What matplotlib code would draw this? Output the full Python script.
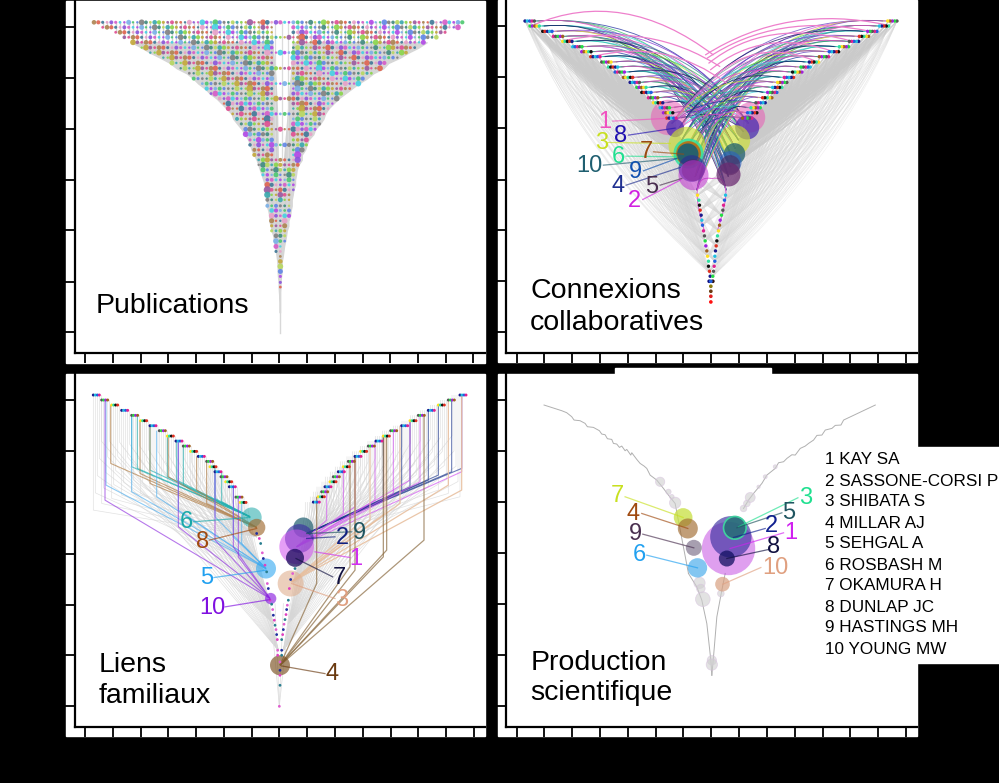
import matplotlib
matplotlib.use('Agg')
import matplotlib.pyplot as plt
from matplotlib.collections import LineCollection, PathCollection
from matplotlib.patches import Circle, PathPatch, Rectangle
from matplotlib.path import Path

plt.rcParams['font.family'] = ['Liberation Sans', 'DejaVu Sans']

# ------------------------------------------------------------
# Shared values
dot_colors = ['#e04f92', '#8a55dc', '#4cc86e', '#39a8ae', '#ad8350', '#d65cc8', '#5f86e6', '#8ad64a', '#e0634f',
              '#45cfe3', '#808080', '#c4a83a', '#3f7898', '#b248e6', '#3f8a80', '#9a5aa0', '#e8a0c8', '#7ab0e8', '#b8d860']
bright_colors = ['#1a1a8c', '#22dd44', '#111111', '#e02090', '#ffe020', '#20c0e0',
                 '#a020e0', '#e03020', '#555555', '#30e0a0', '#2060e0', '#a06020']
arc_colors = ['#2030a0', '#20c0a0', '#c8e030', '#e040c0', '#6040c0', '#30c060', '#2a7f90',
              '#8030d0', '#40d0e0', '#e060d0', '#808890', '#101060']
legend_names = ['1 KAY SA', '2 SASSONE-CORSI P', '3 SHIBATA S', '4 MILLAR AJ', '5 SEHGAL A',
                '6 ROSBASH M', '7 OKAMURA H', '8 DUNLAP JC', '9 HASTINGS MH', '10 YOUNG MW']
legend_y = [460, 481, 502, 523, 544, 565, 586, 607, 628, 649]

# ------------------------------------------------------------
# Panel A - Publications: rows of the tree, outline
pub_row_y = [67, 82, 97, 112, 127, 143, 158, 173, 189, 205, 220, 236, 251, 266, 281, 296, 311, 326, 342,
             357, 372, 388, 403, 420, 435, 450, 465, 480, 495, 510, 525, 540, 555, 570, 585, 600, 618,
             632, 648, 663, 678, 693, 708, 724, 740, 755, 770, 785, 800, 815, 830, 848, 862, 877, 892, 908, 938]
pub_left = [280, 298, 335, 365, 395, 425, 450, 480, 510, 530, 560, 580, 595, 615, 630, 650, 665, 680, 695,
            700, 712, 725, 735, 745, 750, 755, 762, 770, 775, 780, 785, 790, 795, 797, 800, 802, 800,
            805, 808, 808, 812, 815, 820, 822, 825, 828, 830, 832, 833, 833, 834, 836, 836, 837, 838, 839, 839]
pub_right = [1398, 1380, 1335, 1310, 1280, 1255, 1225, 1200, 1165, 1150, 1120, 1100, 1075, 1055, 1035, 1015,
             1000, 985, 975, 970, 960, 945, 940, 925, 920, 915, 905, 905, 895, 890, 888, 885, 885, 880, 878,
             875, 875, 872, 870, 865, 865, 860, 858, 855, 852, 850, 848, 845, 845, 845, 843, 841, 841, 840,
             840, 840, 840]
pub_sizes = [4, 8, 3, 11, 5, 3, 9, 4, 17, 5, 3, 7, 4, 13]
pub_big_columns = [646, 750, 802, 893, 906, 958, 1179]
pub_gap_y = [60, 230, 330, 500]
pub_gap_left = [815, 830, 835, 838]
pub_gap_right = [878, 868, 860, 846]
pub_center_lines = [825, 845, 865]

# ------------------------------------------------------------
# Panel B - Connexions collaboratives
co_left_x = [75, 90, 128, 160, 188, 218, 245, 272, 305, 325, 345, 370, 390, 410, 425, 445, 460, 480, 490, 500]
co_right_x = [1190, 1165, 1130, 1105, 1075, 1045, 1015, 985, 955, 930, 905, 880, 860, 845, 830, 815, 795, 780, 770, 755]
co_row_y = [63, 78, 94, 109, 124, 140, 155, 170, 186, 201, 216, 232, 247, 262, 277, 293, 308, 323, 338, 354]
co_mid_left_x = [515, 530, 545, 560, 570, 580, 585, 590]
co_mid_right_x = [745, 730, 715, 705, 695, 690, 685, 678]
co_mid_y = [370, 395, 420, 445, 470, 500, 530, 570]
co_low_left_x = [592, 596, 598, 600, 603, 605, 607, 610, 613, 615, 617, 620, 622, 625, 625, 628, 630]
co_low_right_x = [676, 673, 670, 668, 664, 660, 658, 655, 652, 650, 648, 646, 644, 644, 642, 640, 638]
co_low_y = [585, 600, 615, 630, 645, 660, 675, 692, 707, 722, 737, 752, 768, 783, 798, 813, 828]
co_stem_y = [843, 858, 873, 888, 905]
co_stem_colors = ['#2060e0', '#8a7a10', '#6a3a10', '#e02020', '#ff1010']
co_circle_x = [505, 750, 525, 741, 560, 705, 565, 565, 563, 703, 690, 575, 690, 578, 580, 685]
co_circle_y = [352, 352, 384, 382, 435, 420, 460, 460, 462, 461, 487, 505, 495, 510, 525, 523]
co_circle_r = [53, 45, 27, 36, 55, 45, 45, 37, 32, 32, 34, 40, 30, 33, 45, 36]
co_circle_colors = ['#e85bb5', '#e85bb5', '#4b2fb0', '#4b2fb0', '#cde030', '#cde030', '#30e0a0', '#c06a10',
                    '#1f6070', '#1f6070', '#2a60c0', '#2a2f90', '#4a2f60', '#4a2f60', '#c030d0', '#6a2a70']
co_circle_alpha = [0.55, 0.55, 0.75, 0.75, 0.65, 0.65, 0.85, 0.9, 0.95, 0.75, 0.6, 0.65, 0.65, 0.65, 0.55, 0.75]
co_labels = ['1', '8', '3', '7', '6', '10', '9', '4', '5', '2']
co_label_x = [313, 362, 305, 438, 354, 268, 405, 353, 455, 404]
co_label_y = [365, 408, 428, 455, 470, 497, 517, 558, 560, 603]
co_label_colors = ['#f050c0', '#2010b0', '#c8e020', '#9a4a10', '#20e090', '#1f5f70', '#1050b0', '#1f2f90', '#4a2f50', '#d020e0']
co_lead_x0 = [338, 385, 325, 460, 378, 310, 430, 378, 480, 428]
co_lead_y0 = [363, 405, 427, 455, 468, 495, 512, 555, 555, 598]
co_lead_x1 = [495, 525, 510, 550, 530, 530, 530, 540, 545, 540]
co_lead_y1 = [355, 384, 430, 462, 470, 475, 475, 502, 535, 540]
pink_x0 = [100, 190, 285, 1160, 1110, 1060, 1000, 950]
pink_y0 = [75, 122, 168, 75, 94, 125, 155, 185]
pink_cx = [370, 450, 500, 860, 830, 800, 790, 780]
pink_cy = [-40, 65, 115, 10, 35, 50, 80, 110]
pink_x1 = [640, 660, 680, 615, 620, 625, 630, 640]
pink_y1 = [165, 200, 250, 165, 175, 190, 210, 230]

# ------------------------------------------------------------
# Panel C - Liens familiaux
fam_left_x = [130, 155, 185, 215, 245, 272, 300, 328, 352, 378, 400, 422, 445, 470, 480, 495, 513, 527, 538, 558, 570]
fam_left_y = [75, 90, 105, 121, 136, 152, 167, 182, 198, 213, 228, 244, 259, 274, 290, 305, 320, 335, 350, 381, 397]
fam_right_x = [1230, 1195, 1165, 1135, 1105, 1080, 1055, 1022, 1000, 978, 955, 932, 915, 895, 880, 865, 850, 840, 825, 815, 805, 790]
fam_right_y = [75, 90, 105, 121, 136, 152, 167, 182, 198, 213, 228, 244, 259, 274, 290, 305, 320, 335, 350, 365, 380, 396]
fam_bend_left = [420, 400, 385, 375, 365, 370, 360, 350, 345, 340, 345, 360, 370, 385, 400, 410, 420, 430, 440, 450, 455]
fam_bend_right = [380, 370, 360, 350, 345, 345, 350, 360, 365, 370, 375, 385, 390, 395, 400, 410, 420, 430, 440, 450, 455, 460]
fam_end_left_x = [620, 640, 655, 670, 685]
fam_end_left_y = [500, 600, 680, 760, 840]
fam_end_right_x = [760, 745, 730, 715, 700]
fam_end_right_y = [500, 590, 640, 760, 840]
# coloured links: top x, top y, bend y
teal_x = [245, 262, 300, 352, 380, 400, 495, 515]
teal_top = [136, 136, 167, 198, 213, 228, 290, 305]
teal_bend = [290, 295, 300, 320, 330, 345, 385, 395]
brown_x = [182, 270, 300, 355, 440, 470]
brown_top = [105, 152, 167, 198, 259, 274]
brown_bend = [280, 310, 340, 320, 360, 400]
sky_x = [168, 245, 320, 385, 495, 550, 575]
sky_top = [90, 136, 182, 213, 305, 350, 397]
sky_bend = [345, 365, 380, 420, 440, 500, 520]
violet_x = [165, 385, 495, 550, 565]
violet_top = [90, 213, 305, 350, 381]
violet_bend = [390, 470, 510, 530, 560]
navy_x = [1235, 1205, 1165, 1135, 1080, 1055, 1000]
navy_top = [75, 90, 105, 121, 152, 167, 198]
navy_bend = [295, 305, 315, 330, 350, 360, 390]
pink_links_x = [1235, 1110, 1080, 1030, 975, 915, 880, 830]
pink_links_top = [75, 136, 152, 182, 213, 259, 290, 350]
pink_links_bend = [305, 335, 330, 370, 390, 410, 430, 450]
peach_x = [1195, 1235, 1050, 1005, 960, 915]
peach_top = [90, 75, 167, 198, 228, 259]
peach_bend = [345, 360, 400, 430, 450, 470]
mocha_x = [1122, 1010, 1000, 915, 900, 800]
mocha_top = [136, 198, 198, 259, 274, 380]
mocha_bend = [510, 540, 560, 600, 590, 640]
fam_chain_left_x = [620, 628, 632, 637, 640, 645, 650, 652, 655, 660, 665, 668, 670, 673, 675, 678, 680, 682]
fam_chain_left_y = [490, 505, 520, 548, 565, 585, 605, 640, 655, 690, 702, 718, 735, 750, 765, 778, 793, 808]
fam_chain_right_x = [735, 728, 722, 718, 715, 712, 710, 708, 705, 702, 700, 698, 695]
fam_chain_right_y = [595, 610, 628, 655, 690, 705, 718, 733, 748, 762, 778, 793, 808]
fam_base_x = [683, 695, 683, 695, 690, 690, 690, 690, 688]
fam_base_y = [840, 840, 855, 855, 875, 900, 915, 945, 1008]
fam_circle_x = [605, 620, 648, 662, 760, 748, 740, 735, 722, 690]
fam_circle_y = [442, 472, 595, 685, 472, 505, 530, 563, 640, 885]
fam_circle_r = [30, 26, 30, 17, 30, 43, 52, 27, 39, 30]
fam_circle_colors = ['#20a8a8', '#a06a30', '#30a8f0', '#8a20e0', '#1f5f70', '#3a2fa0', '#d050f0', '#201060', '#e0b090', '#7a5020']
fam_circle_alpha = [0.55, 0.65, 0.6, 0.65, 0.7, 0.65, 0.55, 0.78, 0.6, 0.65]
fam_labels = ['6', '8', '5', '10', '2', '9', '1', '7', '3', '4']
fam_label_x = [408, 458, 470, 487, 877, 928, 918, 868, 875, 846]
fam_label_y = [456, 515, 622, 714, 505, 490, 565, 622, 688, 912]
fam_label_colors = ['#18a8a8', '#a04a10', '#20a0f0', '#8010e0', '#102080', '#1f5560', '#d030f0', '#101040', '#e0a080', '#6a3a10']
fam_lead_x0 = [430, 478, 492, 525, 855, 905, 900, 848, 855, 825]
fam_lead_y0 = [455, 510, 622, 710, 500, 485, 562, 620, 685, 910]
fam_lead_x1 = [600, 620, 648, 660, 770, 770, 795, 738, 725, 695]
fam_lead_y1 = [442, 475, 600, 688, 505, 490, 545, 565, 640, 887]

# ------------------------------------------------------------
# Panel D - Production scientifique
prod_left_x = [132, 185, 200, 215, 222, 240, 255, 262, 280, 298, 305, 315, 322, 335, 340, 350, 358, 365, 375, 380, 392, 395,
               410, 420, 432, 440, 450, 470, 490, 505, 525, 565]
prod_left_y = [135, 152, 158, 170, 180, 182, 190, 200, 202, 212, 222, 224, 236, 238, 250, 252, 262, 258, 272, 268, 285, 278,
               298, 310, 318, 325, 345, 360, 385, 405, 430, 640]
prod_right_x = [1125, 1030, 1022, 1005, 995, 975, 965, 950, 940, 925, 915, 900, 885, 875, 860, 850, 835, 825, 800, 785, 760, 745, 730]
prod_right_y = [135, 180, 195, 196, 205, 210, 225, 226, 240, 250, 258, 265, 285, 284, 295, 305, 308, 325, 345, 370, 400, 420, 445]
prod_low_left_x = [565, 590, 605, 620, 632, 635]
prod_low_left_y = [640, 680, 720, 790, 900, 945]
prod_low_right_x = [675, 665, 650, 640, 635]
prod_low_right_y = [640, 690, 770, 890, 945]
prod_grey_x = [480, 505, 515, 525, 750, 740, 730, 825, 795, 775, 598, 602, 608, 662, 635, 635]
prod_grey_y = [365, 395, 410, 428, 412, 430, 445, 320, 350, 380, 668, 685, 717, 700, 900, 913]
prod_grey_r = [14, 8, 7, 17, 15, 10, 10, 6, 6, 5, 17, 13, 22, 10, 14, 17]
prod_circle_x = [685, 692, 704, 680, 667, 549, 563, 581, 592]
prod_circle_y = [565, 530, 503, 595, 672, 472, 505, 563, 623]
prod_circle_r = [80, 62, 34, 24, 22, 28, 30, 24, 29]
prod_circle_colors = ['#c040e0', '#3a2fa0', '#1f7070', '#101060', '#d8a080', '#c8e040', '#a06a30', '#605070', '#30a0e8']
prod_circle_alpha = [0.5, 0.65, 0.8, 0.75, 0.7, 0.75, 0.65, 0.55, 0.6]
prod_labels = ['7', '4', '9', '6', '3', '5', '2', '1', '8', '10']
prod_label_x = [352, 400, 405, 418, 915, 865, 815, 872, 820, 825]
prod_label_y = [408, 462, 522, 583, 413, 458, 498, 518, 560, 622]
prod_label_colors = ['#c8e020', '#a04a10', '#4a3050', '#20a0f0', '#20e090', '#1f5560', '#102090', '#d020f0', '#101040', '#e0a080']
prod_lead_x0 = [375, 425, 428, 440, 893, 845, 795, 850, 805, 782]
prod_lead_y0 = [410, 460, 522, 585, 413, 458, 505, 518, 568, 622]
prod_lead_x1 = [549, 563, 581, 592, 715, 710, 700, 690, 680, 668]
prod_lead_y1 = [472, 505, 563, 623, 500, 503, 532, 565, 595, 672]

# ------------------------------------------------------------
# Helpers
def make_panel(x0, y0, x1, y1, xlim, ylim, xticks, yticks):
    ax = fig.add_axes([x0 / 999, 1 - y1 / 783, (x1 - x0) / 999, (y1 - y0) / 783], facecolor='white')
    ax.set_xlim(*xlim)
    ax.set_ylim(*ylim)
    ax.set_xticks(xticks)
    ax.set_yticks(yticks)
    ax.tick_params(direction='out', length=7, width=1.3, color='black', labelleft=False, labelbottom=False)
    ax.spines['top'].set_visible(False)
    ax.spines['right'].set_visible(False)
    ax.spines['left'].set_linewidth(1.6)
    ax.spines['bottom'].set_linewidth(1.6)
    return ax

def circles(ax, xs, ys, rs, colors, alphas, zorder=4):
    for x, y, r, c, a in zip(xs, ys, rs, colors, alphas):
        ax.add_patch(Circle((x, y), r, facecolor=c, edgecolor='none', alpha=a, zorder=zorder))

def labels(ax, texts, xs, ys, colors, x0, y0, x1, y1):
    for t, x, y, c, a, b, d, e in zip(texts, xs, ys, colors, x0, y0, x1, y1):
        ax.plot([a, d], [b, e], color=c, lw=0.9, alpha=0.65, zorder=6)
        ax.text(x, y, t, color=c, fontsize=17, ha='center', va='center', zorder=7)

def elbow_links(ax, xs, tops, bends, end, color, lw=0.8, alpha=0.65):
    segs = [[(x, t), (x, b), end] for x, t, b in zip(xs, tops, bends)]
    ax.add_collection(LineCollection(segs, colors=color, linewidths=lw, alpha=alpha, zorder=3), autolim=False)

def arc(x0, y0, cx, cy, x1, y1):
    return Path([(x0, y0), (cx, cy), (x1, y1)], [Path.MOVETO, Path.CURVE3, Path.CURVE3])

# ------------------------------------------------------------
fig = plt.figure(figsize=(9.99, 7.83), dpi=100, facecolor='black')

# white sheets behind the panels, tick strips, the tab and the legend box
back = fig.add_axes([0, 0, 1, 1], zorder=-1)
back.set_xlim(0, 999)
back.set_ylim(783, 0)
back.axis('off')
back.add_patch(Rectangle((66, 1), 419, 362, color='white'))
back.add_patch(Rectangle((498, 0), 419, 362, color='white'))
back.add_patch(Rectangle((66, 374), 419, 362, color='white'))
back.add_patch(Rectangle((498, 374), 419, 362, color='white'))
back.add_patch(Rectangle((615, 368), 156, 8, color='white'))
back.add_patch(Rectangle((917, 447), 82, 216, color='white'))

ticks_a = [255, 340, 422, 505, 588, 672, 755, 838, 922, 1005, 1090, 1170, 1255, 1338, 1420]
ticks_b = [50, 133, 217, 300, 383, 467, 550, 633, 717, 800, 883, 967, 1050, 1133, 1217]
ticks_c = [105, 188, 272, 355, 438, 522, 605, 688, 772, 855, 938, 1022, 1105, 1188, 1272]

ax_a = make_panel(75, 1, 485, 353, (225, 1455), (1060, 3), ticks_a, [80, 235, 387, 540, 692, 846, 997])
ax_b = make_panel(506, 0, 917, 353, (18, 1250), (1058, 0), ticks_b, [78, 232, 385, 538, 690, 843, 995])
ax_c = make_panel(75, 374, 485, 727, (75, 1305), (1070, 12), ticks_c, [90, 242, 397, 550, 703, 855, 1008])
ax_d = make_panel(506, 374, 917, 727, (18, 1250), (1100, 42), ticks_b, [120, 273, 427, 578, 732, 885, 1038])

# ------------------------------------------------------------
# Panel A
start = 4
ax_a.fill_betweenx(pub_row_y[start:], pub_left[start:], pub_right[start:], color='#d6d6d6', zorder=1)
ax_a.fill_betweenx(pub_gap_y, pub_gap_left, pub_gap_right, color='white', zorder=1.5)
xs, ys, cs, ss = [], [], [], []
for j, col in enumerate(range(269, 1398, 13)):
    rows = [i for i in range(len(pub_row_y)) if pub_left[i] <= col <= pub_right[i]]
    if not rows:
        continue
    ax_a.plot([col, col], [pub_row_y[rows[0]], pub_row_y[rows[-1]]], color='#d0d0d0', lw=1.0, zorder=1)
    for i in rows:
        inside = col in (828, 841, 854, 867)
        if inside and (i < 28 and i % 3):
            continue
        s = pub_sizes[(i * 5 + j * 3) % len(pub_sizes)]
        if col in pub_big_columns:
            s = s * 1.6
        xs.append(col)
        ys.append(pub_row_y[i])
        ss.append(s)
        cs.append(dot_colors[(i * 7 + j * 4) % len(dot_colors)])
for x in pub_center_lines:
    ax_a.plot([x, x], [67, 600], color='#dcdcdc', lw=0.9, zorder=1.6)
ax_a.plot([839, 839], [600, 1000], color='#d8d8d8', lw=1.0, zorder=1)
ax_a.scatter(xs, ys, s=ss, c=cs, alpha=0.9, linewidths=0, zorder=3)
ax_a.text(288, 940, 'Publications', fontsize=20.5, color='black', va='baseline')

# ------------------------------------------------------------
# Panel B
low_x = co_low_left_x + co_low_right_x
low_y = co_low_y + co_low_y
grey_paths = []
for side, arm_x in enumerate([co_left_x, co_right_x]):
    sign = 1 if side == 0 else -1
    for x, y in zip(arm_x, co_row_y):
        for lx, ly in zip(low_x[::3], low_y[::3]):
            bow = 0.2 * abs(lx - x)
            grey_paths.append(arc(x, y, (x + lx) / 2 - sign * bow, (y + ly) / 2 + 0.2 * bow, lx, ly))
ax_b.add_collection(PathCollection(grey_paths, facecolors='none', edgecolors='#d6d6d6', linewidths=0.35,
                                   alpha=0.45, zorder=1), autolim=False)
mid_paths = []
for side, arm_x in enumerate([co_left_x, co_right_x]):
    sign = 1 if side == 0 else -1
    mid_x = co_mid_left_x if side == 0 else co_mid_right_x
    for x, y in zip(arm_x, co_row_y):
        for step in [0, 12, 24]:
            for mx, my in zip(mid_x[:6], co_mid_y[:6]):
                bow = 0.12 * abs(mx - x)
                mid_paths.append(arc(x + sign * step, y, (x + mx) / 2 - sign * bow, (y + my) / 2 + 0.2 * bow, mx, my))
ax_b.add_collection(PathCollection(mid_paths, facecolors='none', edgecolors='#cacaca', linewidths=0.5,
                                   alpha=0.5, zorder=1), autolim=False)

# coloured arcs from each arm to the inner strand of the other side
n = 0
for side, arm_x in enumerate([co_left_x, co_right_x]):
    sign = 1 if side == 0 else -1
    mid_x = co_mid_right_x if side == 0 else co_mid_left_x
    for i, (x, y) in enumerate(zip(arm_x, co_row_y)):
        for k in range(4):
            mx = mid_x[(i + k * 2) % 8]
            my = co_mid_y[(i + k * 2) % 8]
            x0 = x + sign * (30 + k * 4)
            cx = x0 + (mx - x0) * 0.62
            cy = y - 26 - k * 3
            c = arc_colors[n % len(arc_colors)]
            n += 5
            ax_b.add_patch(PathPatch(arc(x0, y, cx, cy, mx, my), fill=False, edgecolor=c, lw=0.65, alpha=0.75, zorder=2))
# wide pink arcs on top
for x0, y0, cx, cy, x1, y1 in zip(pink_x0, pink_y0, pink_cx, pink_cy, pink_x1, pink_y1):
    ax_b.add_patch(PathPatch(arc(x0, y0, cx, cy, x1, y1), fill=False, edgecolor='#ee80cc', lw=0.9, zorder=2))
# pink loop round the lower strands
ax_b.add_patch(PathPatch(arc(612, 690, 560, 520, 635, 535), fill=False, edgecolor='#d860d0', lw=0.7, zorder=2))
ax_b.add_patch(PathPatch(arc(652, 690, 710, 520, 635, 535), fill=False, edgecolor='#d860d0', lw=0.7, zorder=2))

circles(ax_b, co_circle_x, co_circle_y, co_circle_r, co_circle_colors, co_circle_alpha)

# node groups
xs, ys, cs = [], [], []
n = 0
for side, arm_x in enumerate([co_left_x, co_right_x]):
    sign = 1 if side == 0 else -1
    for x, y in zip(arm_x, co_row_y):
        for step in range(0, 30, 7):
            xs.append(x + sign * step)
            ys.append(y)
            cs.append(bright_colors[n % len(bright_colors)])
            n += 5
for lx, ly in zip(low_x, low_y):
    xs.append(lx)
    ys.append(ly)
    cs.append(bright_colors[n % len(bright_colors)])
    n += 5
ax_b.scatter(xs, ys, s=6, c=cs, linewidths=0, zorder=5)
ax_b.scatter([627, 638], [co_stem_y[0], co_stem_y[0]], s=7, c=['#101080', '#301010'], linewidths=0, zorder=5)
ax_b.scatter([632] * 5, co_stem_y, s=7, c=co_stem_colors, linewidths=0, zorder=5)
labels(ax_b, co_labels, co_label_x, co_label_y, co_label_colors, co_lead_x0, co_lead_y0, co_lead_x1, co_lead_y1)
ax_b.text(90, 892, 'Connexions', fontsize=20.5, color='black', va='baseline')
ax_b.text(90, 988, 'collaboratives', fontsize=20.5, color='black', va='baseline')

# ------------------------------------------------------------
# Panel C
segs_light = []
bend_share = [1.0, 0.85, 0.7, 0.55, 0.4]
for x, y, b in zip(fam_left_x, fam_left_y, fam_bend_left):
    for k, step in enumerate([0, 6, 12, 18, 24]):
        bend = y + (b - y) * bend_share[k]
        segs_light.append([(x + step, y), (x + step, bend), (fam_end_left_x[k], fam_end_left_y[k])])
for x, y, b in zip(fam_right_x, fam_right_y, fam_bend_right):
    for k, step in enumerate([0, 6, 12, 18, 24]):
        bend = y + (b - y) * bend_share[k]
        segs_light.append([(x - step, y), (x - step, bend), (fam_end_right_x[k], fam_end_right_y[k])])
ax_c.add_collection(LineCollection(segs_light, colors='#d6d6d6', linewidths=0.5, alpha=0.7, zorder=1), autolim=False)

elbow_links(ax_c, teal_x, teal_top, teal_bend, (600, 440), '#20b0b0')
elbow_links(ax_c, brown_x, brown_top, brown_bend, (620, 472), '#b07a40')
elbow_links(ax_c, sky_x, sky_top, sky_bend, (648, 595), '#50b0f0')
elbow_links(ax_c, violet_x, violet_top, violet_bend, (660, 685), '#9030e0')
elbow_links(ax_c, navy_x, navy_top, navy_bend, (770, 490), '#203a90')
elbow_links(ax_c, pink_links_x, pink_links_top, pink_links_bend, (740, 530), '#d050f0')
elbow_links(ax_c, peach_x, peach_top, peach_bend, (725, 635), '#e8c0a0', lw=0.9, alpha=0.9)
elbow_links(ax_c, mocha_x, mocha_top, mocha_bend, (690, 885), '#8a6a40', lw=0.9, alpha=0.7)
circles(ax_c, fam_circle_x, fam_circle_y, fam_circle_r, fam_circle_colors, fam_circle_alpha)

xs, ys, cs = [], [], []
n = 0
for x, y in zip(fam_left_x + fam_right_x, fam_left_y + fam_right_y):
    for step in range(0, 24, 6):
        xs.append(x + step)
        ys.append(y)
        cs.append(bright_colors[n % len(bright_colors)])
        n += 5
ax_c.scatter(xs, ys, s=4.5, c=cs, linewidths=0, zorder=5)
chain_x = fam_chain_left_x + fam_chain_right_x + fam_base_x
chain_y = fam_chain_left_y + fam_chain_right_y + fam_base_y
chain_c = [arc_colors[(i * 3) % len(arc_colors)] for i in range(len(chain_x))]
ax_c.scatter(chain_x, chain_y, s=4, c=chain_c, linewidths=0, zorder=5)
for x in [660, 675, 700, 720]:
    ax_c.plot([x, 688], [700, 1008], color='#dddddd', lw=0.5, zorder=1)
labels(ax_c, fam_labels, fam_label_x, fam_label_y, fam_label_colors, fam_lead_x0, fam_lead_y0, fam_lead_x1, fam_lead_y1)
ax_c.text(145, 905, 'Liens', fontsize=20.5, color='black', va='baseline')
ax_c.text(145, 998, 'familiaux', fontsize=20.5, color='black', va='baseline')

# ------------------------------------------------------------
# Panel D
for line_x, line_y in [(prod_left_x, prod_left_y), (prod_right_x, prod_right_y),
                       (prod_low_left_x, prod_low_left_y), (prod_low_right_x, prod_low_right_y)]:
    ax_d.plot(line_x, line_y, color='#b0b0b0', lw=0.7, zorder=1)
for x, y, r in zip(prod_grey_x, prod_grey_y, prod_grey_r):
    ax_d.add_patch(Circle((x, y), r, facecolor='#cfcfcf', edgecolor='#d8c0e0', lw=0.5, alpha=0.6, zorder=2))
circles(ax_d, prod_circle_x, prod_circle_y, prod_circle_r, prod_circle_colors, prod_circle_alpha)
ax_d.add_patch(Circle((704, 503), 34, fill=False, edgecolor='#40d0a0', lw=1.2, zorder=5))
labels(ax_d, prod_labels, prod_label_x, prod_label_y, prod_label_colors, prod_lead_x0, prod_lead_y0, prod_lead_x1, prod_lead_y1)
ax_d.text(92, 928, 'Production', fontsize=20.5, color='black', va='baseline')
ax_d.text(92, 1020, 'scientifique', fontsize=20.5, color='black', va='baseline')

# legend list at the right, runs out of the panel so it sits on the figure
for name, y in zip(legend_names, legend_y):
    fig.text(825 / 999, 1 - y / 783, name, fontsize=12.3, color='black', va='center', ha='left')

fig.savefig('out.png', dpi=100, facecolor='black')
